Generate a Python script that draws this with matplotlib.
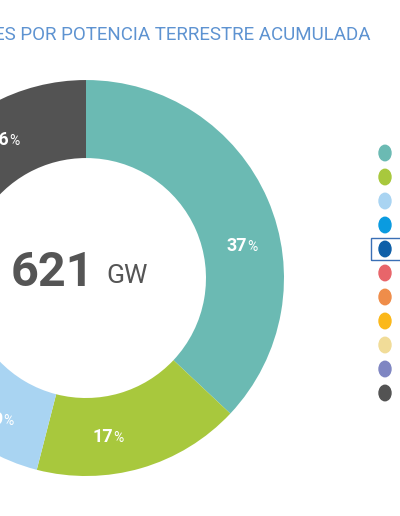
import numpy as np
import matplotlib.pyplot as plt
from matplotlib.patches import Rectangle

# datos: potencia terrestre acumulada por país (%)
paises = ['China', 'EE.UU.', 'Alemania', 'India', 'España', 'Francia',
          'Brasil', 'Reino Unido', 'Canadá', 'Italia', 'Resto del mundo']
cuota = [37, 17, 9, 6, 4, 3, 2, 2, 2, 2, 16]
colores = ['#6bbab3', '#a8c83d', '#a9d4f2', '#0a9be0', '#0e5fa8', '#e8656a',
           '#ef8d4a', '#fbb81a', '#f1dc98', '#7f86c2', '#535353']
total_gw = 621
titulo = 'PAÍSES POR POTENCIA TERRESTRE ACUMULADA'
resaltado = 'España'

# colocación de las etiquetas: desfase angular (grados) y radio relativo
desfase = [-12, -8, -1, 0, 0, 0, 0, 0, 0, 0, 1.5]
radio = [0.81, 0.81, 0.84, 0.81, 0.81, 0.81, 0.81, 0.81, 0.81, 0.81, 0.81]

fuente = ['Roboto', 'DejaVu Sans']

fig = plt.figure(figsize=(4.0, 5.16), dpi=100)
fig.patch.set_facecolor('white')

# donut (parte izquierda recortada como en el original)
ax = fig.add_axes([-0.28, 0.0775, 0.99, 0.7674])
ax.pie(cuota, colors=colores, startangle=90, counterclock=False, radius=1,
       wedgeprops=dict(width=0.394, edgecolor='none'))
ax.set_xlim(-1, 1)
ax.set_ylim(-1, 1)
ax.set_aspect('equal')
ax.axis('off')

acum = np.cumsum(cuota) - np.array(cuota) / 2
for v, c, d, r in zip(cuota, acum, desfase, radio):
    if v < 6:
        continue
    ang = np.deg2rad(90 - 360 * c / sum(cuota) + d)
    x, y = r * np.cos(ang), r * np.sin(ang)
    ax.text(x + 0.02, y, str(v), color='white', fontsize=13, fontweight='bold',
            ha='right', va='center', family=fuente)
    ax.text(x + 0.02, y - 0.005, '%', color='white', fontsize=10,
            ha='left', va='center', family=fuente)

ax.text(0.04, 0.025, str(total_gw), color='#555555', fontsize=35,
        fontweight='bold', ha='right', va='center', family=fuente)
ax.text(0.105, 0.008, 'GW', color='#555555', fontsize=19,
        ha='left', va='center', family=fuente)

# título
fig.text(0.925, 0.932, titulo, color='#5e93d1', fontsize=13.5,
         ha='right', va='center', family=fuente)

# leyenda (texto fuera del recorte)
ys = 1 - (153 + 24 * np.arange(len(paises))) / 516
for p, c, y in zip(paises, colores, ys):
    fig.patches.append(plt.Circle((385 / 400, y), 6 / 400, color=c,
                                  transform=fig.transFigure, figure=fig))
    if p == resaltado:
        fig.patches.append(Rectangle((371 / 400, y - 11 / 516), 40 / 400, 22 / 516,
                                     fill=False, edgecolor='#3a6fb5', lw=1,
                                     transform=fig.transFigure, figure=fig))

fig.savefig('out.png', dpi=100)
